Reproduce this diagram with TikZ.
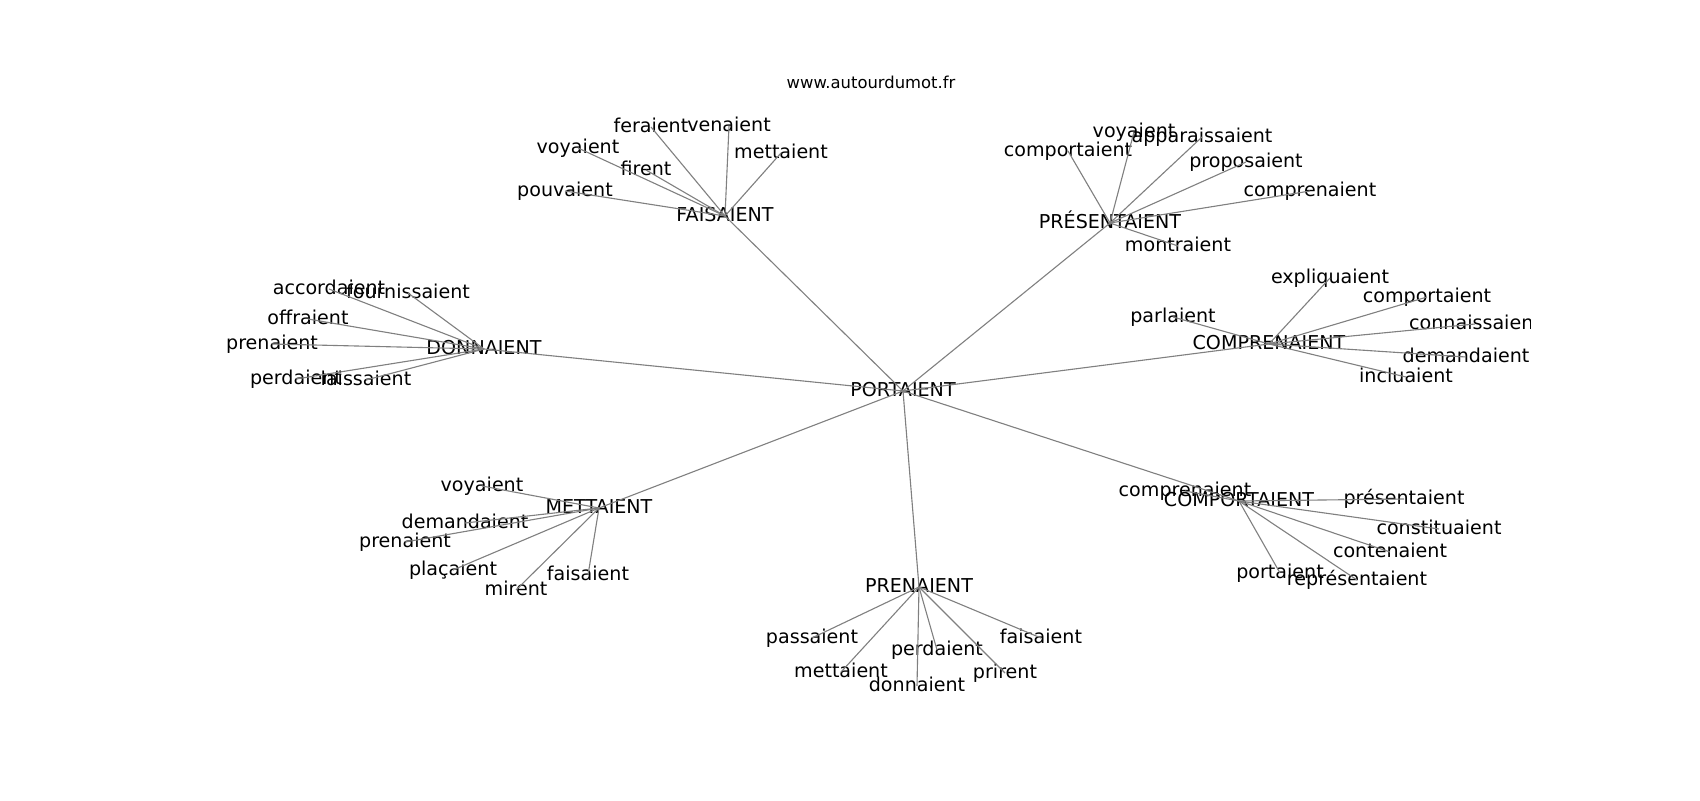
\documentclass[tikz,border=0pt]{standalone}
\usepackage{fontspec}
\setmainfont{DejaVu Sans}
\tikzset{
    word/.style={inner sep=0pt, font=\fontsize{13.75}{16}\selectfont, text height=10.45pt, text depth=2.86pt},
    site/.style={inner sep=0pt, font=\fontsize{11.8}{14}\selectfont},
    link/.style={draw=gray, line width=0.8pt},
}
\begin{document}
\begin{tikzpicture}[x=0.72pt, y=-0.72pt]
                        \useasboundingbox (0,0) rectangle (1700,800);
                        \node[site] (site) at (871,82) {www.autourdumot.fr};
                        
                        \begin{scope}
                        \clip (212.5,96) rectangle (1530,712);
                        \begin{scope}[shift={(0,3)}]
                        
                        \node[word] (portaient) at (903,388) {PORTAIENT};
                        \node[word] (faisaient) at (725,213) {FAISAIENT};
                        \node[word] (presentaient) at (1110,220) {PRÉSENTAIENT};
                        \node[word] (donnaient) at (484,346) {DONNAIENT};
                        \node[word] (comprenaient) at (1269,341) {COMPRENAIENT};
                        \node[word] (mettaient) at (599,505) {METTAIENT};
                        \node[word] (prenaient) at (919,584) {PRENAIENT};
                        \node[word] (comportaient) at (1239,498) {COMPORTAIENT};
                        
                        \node[word] (fa-feraient) at (651,124) {feraient};
                        \node[word] (fa-venaient) at (729,123) {venaient};
                        \node[word] (fa-voyaient) at (578,145) {voyaient};
                        \node[word] (fa-mettaient) at (781,150) {mettaient};
                        \node[word] (fa-firent) at (646,167) {firent};
                        \node[word] (fa-pouvaient) at (565,188) {pouvaient};
                        
                        \node[word] (pr-voyaient) at (1134,129) {voyaient};
                        \node[word] (pr-apparaissaient) at (1202,134) {apparaissaient};
                        \node[word] (pr-comportaient) at (1068,148) {comportaient};
                        \node[word] (pr-proposaient) at (1246,159) {proposaient};
                        \node[word] (pr-comprenaient) at (1310,188) {comprenaient};
                        \node[word] (pr-montraient) at (1178,243) {montraient};
                        
                        \node[word] (cn-expliquaient) at (1330,275) {expliquaient};
                        \node[word] (cn-comportaient) at (1427,294) {comportaient};
                        \node[word] (cn-connaissaient) at (1475,321) {connaissaient};
                        \node[word] (cn-parlaient) at (1173,314) {parlaient};
                        \node[word] (cn-demandaient) at (1466,354) {demandaient};
                        \node[word] (cn-incluaient) at (1406,374) {incluaient};
                        
                        \node[word] (do-accordaient) at (329,286) {accordaient};
                        \node[word] (do-fournissaient) at (408,290) {fournissaient};
                        \node[word] (do-offraient) at (308,316) {offraient};
                        \node[word] (do-prenaient) at (272,341) {prenaient};
                        \node[word] (do-perdaient) at (296,376) {perdaient};
                        \node[word] (do-laissaient) at (366,377) {laissaient};
                        
                        \node[word] (me-voyaient) at (482,483) {voyaient};
                        \node[word] (me-demandaient) at (465,520) {demandaient};
                        \node[word] (me-prenaient) at (405,539) {prenaient};
                        \node[word] (me-placaient) at (453,567) {plaçaient};
                        \node[word] (me-mirent) at (516,587) {mirent};
                        \node[word] (me-faisaient) at (588,572) {faisaient};
                        
                        \node[word] (co-comprenaient) at (1185,488) {comprenaient};
                        \node[word] (co-presentaient) at (1404,496) {présentaient};
                        \node[word] (co-constituaient) at (1439,526) {constituaient};
                        \node[word] (co-contenaient) at (1390,549) {contenaient};
                        \node[word] (co-portaient) at (1280,570) {portaient};
                        \node[word] (co-representaient) at (1357,577) {représentaient};
                        
                        \node[word] (pn-passaient) at (812,635) {passaient};
                        \node[word] (pn-mettaient) at (841,669) {mettaient};
                        \node[word] (pn-donnaient) at (917,683) {donnaient};
                        \node[word] (pn-perdaient) at (937,647) {perdaient};
                        \node[word] (pn-faisaient) at (1041,635) {faisaient};
                        \node[word] (pn-prirent) at (1005,670) {prirent};
                        
                        \draw[link] (portaient.center) -- (faisaient.center);
                        \draw[link] (portaient.center) -- (presentaient.center);
                        \draw[link] (portaient.center) -- (donnaient.center);
                        \draw[link] (portaient.center) -- (comprenaient.center);
                        \draw[link] (portaient.center) -- (mettaient.center);
                        \draw[link] (portaient.center) -- (prenaient.center);
                        \draw[link] (portaient.center) -- (comportaient.center);
                        
                        \draw[link] (faisaient.center) -- (fa-feraient.center);
                        \draw[link] (faisaient.center) -- (fa-venaient.center);
                        \draw[link] (faisaient.center) -- (fa-voyaient.center);
                        \draw[link] (faisaient.center) -- (fa-mettaient.center);
                        \draw[link] (faisaient.center) -- (fa-firent.center);
                        \draw[link] (faisaient.center) -- (fa-pouvaient.center);
                        
                        \draw[link] (presentaient.center) -- (pr-voyaient.center);
                        \draw[link] (presentaient.center) -- (pr-apparaissaient.center);
                        \draw[link] (presentaient.center) -- (pr-comportaient.center);
                        \draw[link] (presentaient.center) -- (pr-proposaient.center);
                        \draw[link] (presentaient.center) -- (pr-comprenaient.center);
                        \draw[link] (presentaient.center) -- (pr-montraient.center);
                        
                        \draw[link] (comprenaient.center) -- (cn-expliquaient.center);
                        \draw[link] (comprenaient.center) -- (cn-comportaient.center);
                        \draw[link] (comprenaient.center) -- (cn-connaissaient.center);
                        \draw[link] (comprenaient.center) -- (cn-parlaient.center);
                        \draw[link] (comprenaient.center) -- (cn-demandaient.center);
                        \draw[link] (comprenaient.center) -- (cn-incluaient.center);
                        
                        \draw[link] (donnaient.center) -- (do-accordaient.center);
                        \draw[link] (donnaient.center) -- (do-fournissaient.center);
                        \draw[link] (donnaient.center) -- (do-offraient.center);
                        \draw[link] (donnaient.center) -- (do-prenaient.center);
                        \draw[link] (donnaient.center) -- (do-perdaient.center);
                        \draw[link] (donnaient.center) -- (do-laissaient.center);
                        
                        \draw[link] (mettaient.center) -- (me-voyaient.center);
                        \draw[link] (mettaient.center) -- (me-demandaient.center);
                        \draw[link] (mettaient.center) -- (me-prenaient.center);
                        \draw[link] (mettaient.center) -- (me-placaient.center);
                        \draw[link] (mettaient.center) -- (me-mirent.center);
                        \draw[link] (mettaient.center) -- (me-faisaient.center);
                        
                        \draw[link] (comportaient.center) -- (co-comprenaient.center);
                        \draw[link] (comportaient.center) -- (co-presentaient.center);
                        \draw[link] (comportaient.center) -- (co-constituaient.center);
                        \draw[link] (comportaient.center) -- (co-contenaient.center);
                        \draw[link] (comportaient.center) -- (co-portaient.center);
                        \draw[link] (comportaient.center) -- (co-representaient.center);
                        
                        \draw[link] (prenaient.center) -- (pn-passaient.center);
                        \draw[link] (prenaient.center) -- (pn-mettaient.center);
                        \draw[link] (prenaient.center) -- (pn-donnaient.center);
                        \draw[link] (prenaient.center) -- (pn-perdaient.center);
                        \draw[link] (prenaient.center) -- (pn-faisaient.center);
                        \draw[link] (prenaient.center) -- (pn-prirent.center);
                        \end{scope}
                        \end{scope}
                    \end{tikzpicture}
\end{document}
